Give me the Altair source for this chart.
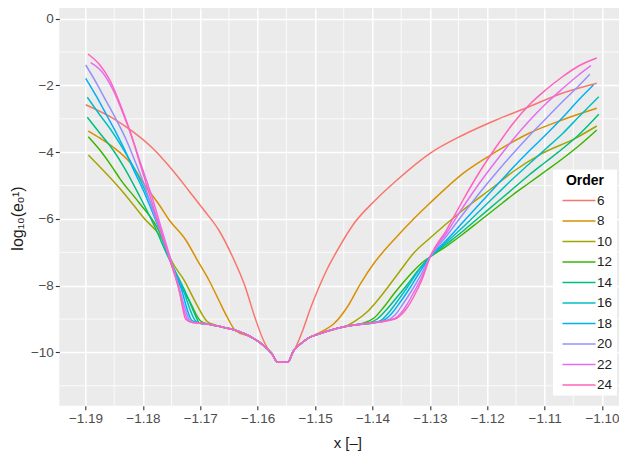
import altair as alt
import pandas as pd

orders = [6, 8, 10, 12, 14, 16, 18, 20, 22, 24]
colors = ["#F8766D", "#D89000", "#A3A500", "#39B600", "#00BF7D",
          "#00BFC4", "#00B0F6", "#9590FF", "#E76BF3", "#FF62BC"]

x_ticks = [-1.19, -1.18, -1.17, -1.16, -1.15, -1.14, -1.13, -1.12, -1.11, -1.10]
y_ticks = [-10, -8, -6, -4, -2, 0]
x_minor = [-1.185, -1.175, -1.165, -1.155, -1.145, -1.135, -1.125, -1.115, -1.105]
y_minor = [-11, -9, -7, -5, -3, -1]

# common floor shared by all orders (middle of the range)
floor_x = [-1.17167, -1.17024, -1.16851, -1.16678, -1.16390, -1.16104, -1.15873, -1.15759, -1.15655,
           -1.15470, -1.15384, -1.15241, -1.15125, -1.14896, -1.14608, -1.14319, -1.13974, -1.13688]
floor_y = [-9.089, -9.119, -9.158, -9.218, -9.338, -9.548, -9.829, -10.027, -10.288,
           -10.288, -9.979, -9.727, -9.577, -9.428, -9.278, -9.179, -9.110, -9.029]

left_x = {
    6: [-1.18997, -1.18520, -1.18175, -1.17830, -1.17512, -1.17196, -1.16938, -1.16679, -1.16420, -1.16218, -1.16045, -1.15902, -1.15798],
    8: [-1.18952, -1.18750, -1.18520, -1.18232, -1.17944, -1.17714, -1.17542, -1.17253, -1.17053, -1.16851, -1.16679, -1.16535],
    10: [-1.18952, -1.18405, -1.18002, -1.17599, -1.17507, -1.17283, -1.17076, -1.16881, -1.16765],
    12: [-1.18952, -1.18750, -1.18520, -1.18405, -1.18059, -1.17714, -1.17576, -1.17426, -1.17196, -1.16994],
    14: [-1.18969, -1.18750, -1.18520, -1.18318, -1.18059, -1.17800, -1.17568, -1.17283, -1.17041],
    16: [-1.18969, -1.18750, -1.18577, -1.18405, -1.18232, -1.17973, -1.17749, -1.17559, -1.17317, -1.17084],
    18: [-1.18997, -1.18807, -1.18634, -1.18461, -1.18289, -1.18175, -1.17973, -1.17766, -1.17550, -1.17352, -1.17145],
    20: [-1.18997, -1.18807, -1.18634, -1.18461, -1.18289, -1.18146, -1.17973, -1.17800, -1.17542, -1.17404, -1.17188],
    22: [-1.18910, -1.18693, -1.18520, -1.18348, -1.18175, -1.18030, -1.17852, -1.17680, -1.17533, -1.17404, -1.17222],
    24: [-1.18957, -1.18750, -1.18577, -1.18405, -1.18232, -1.18030, -1.17830, -1.17657, -1.17524, -1.17369, -1.17253],
}
left_y = {
    6: [-2.577, -2.985, -3.386, -3.884, -4.483, -5.163, -5.733, -6.332, -7.201, -8.031, -8.969, -9.629, -9.958],
    8: [-3.365, -3.575, -3.845, -4.294, -5.043, -5.583, -6.032, -6.632, -7.231, -7.830, -8.430, -8.930],
    10: [-4.085, -5.082, -5.934, -6.833, -7.231, -7.831, -8.520, -9.074, -9.164],
    12: [-3.536, -3.935, -4.483, -4.783, -5.532, -6.392, -6.991, -7.731, -8.430, -9.059],
    14: [-2.955, -3.434, -3.935, -4.483, -5.313, -6.212, -7.111, -8.100, -9.059],
    16: [-2.355, -2.886, -3.284, -3.734, -4.234, -5.103, -6.062, -7.111, -8.040, -9.053],
    18: [-1.786, -2.337, -2.886, -3.434, -4.034, -4.483, -5.223, -6.092, -7.111, -7.980, -9.044],
    20: [-1.387, -1.936, -2.487, -3.036, -3.635, -4.234, -4.984, -5.883, -7.111, -7.860, -9.035],
    22: [-1.319, -1.636, -2.137, -2.835, -3.635, -4.384, -5.283, -6.272, -7.111, -7.890, -9.023],
    24: [-1.058, -1.387, -1.837, -2.526, -3.335, -4.459, -5.571, -6.530, -7.261, -8.130, -9.008],
}
right_x = {
    6: [-1.15355, -1.15212, -1.15091, -1.14953, -1.14780, -1.14608, -1.14319, -1.13947, -1.13572, -1.12997, -1.12421, -1.11846, -1.11271, -1.10695, -1.10091],
    8: [-1.14896, -1.14665, -1.14435, -1.14205, -1.13974, -1.13629, -1.13284, -1.12997, -1.12421, -1.11846, -1.11271, -1.10695, -1.10091],
    10: [-1.14435, -1.14319, -1.14090, -1.13860, -1.13572, -1.13284, -1.12997, -1.12421, -1.11846, -1.11558, -1.11040, -1.10465, -1.10091],
    12: [-1.14147, -1.13974, -1.13801, -1.13629, -1.13456, -1.13284, -1.13140, -1.12997, -1.12709, -1.12421, -1.12134, -1.11846, -1.11558, -1.11271, -1.10983, -1.10695, -1.10408, -1.10091],
    14: [-1.14090, -1.13917, -1.13745, -1.13572, -1.13399, -1.13227, -1.12997, -1.12709, -1.12421, -1.12134, -1.11846, -1.11558, -1.11271, -1.10983, -1.10695, -1.10408, -1.10056],
    16: [-1.13831, -1.13693, -1.13537, -1.13365, -1.13192, -1.12997, -1.12709, -1.12421, -1.12134, -1.11846, -1.11558, -1.11271, -1.10983, -1.10695, -1.10408, -1.10056],
    18: [-1.13796, -1.13658, -1.13503, -1.13348, -1.13175, -1.12997, -1.12709, -1.12421, -1.12134, -1.11846, -1.11558, -1.11271, -1.10983, -1.10695, -1.10408, -1.10150],
    20: [-1.13745, -1.13607, -1.13469, -1.13331, -1.13158, -1.12997, -1.12709, -1.12421, -1.12134, -1.11846, -1.11558, -1.11271, -1.10983, -1.10695, -1.10408, -1.10212],
    22: [-1.13607, -1.13503, -1.13399, -1.13296, -1.13140, -1.12997, -1.12709, -1.12421, -1.12134, -1.11846, -1.11558, -1.11271, -1.10983, -1.10695, -1.10408, -1.10194],
    24: [-1.13572, -1.13486, -1.13399, -1.13284, -1.13140, -1.12997, -1.12709, -1.12421, -1.12134, -1.11846, -1.11558, -1.11271, -1.10983, -1.10695, -1.10408, -1.10091],
}
right_y = {
    6: [-9.898, -9.329, -8.729, -8.130, -7.471, -6.931, -6.131, -5.433, -4.834, -4.034, -3.485, -3.036, -2.637, -2.236, -1.936],
    8: [-9.389, -9.128, -8.631, -7.929, -7.330, -6.632, -6.002, -5.523, -4.633, -3.986, -3.434, -3.036, -2.685],
    10: [-9.194, -9.080, -8.780, -8.331, -7.681, -7.030, -6.572, -5.733, -4.984, -4.594, -4.034, -3.584, -3.215],
    12: [-9.119, -8.969, -8.640, -8.250, -7.890, -7.561, -7.321, -7.141, -6.812, -6.452, -6.062, -5.673, -5.283, -4.924, -4.564, -4.204, -3.815, -3.335],
    14: [-9.128, -8.999, -8.699, -8.340, -7.980, -7.591, -7.141, -6.752, -6.362, -5.942, -5.523, -5.103, -4.684, -4.294, -3.905, -3.485, -2.865],
    16: [-9.014, -8.759, -8.400, -7.980, -7.531, -7.141, -6.692, -6.242, -5.763, -5.283, -4.804, -4.354, -3.905, -3.455, -2.946, -2.337],
    18: [-9.029, -8.819, -8.460, -8.070, -7.591, -7.141, -6.632, -6.092, -5.553, -5.013, -4.474, -3.965, -3.485, -2.976, -2.436, -1.987],
    20: [-9.038, -8.879, -8.550, -8.190, -7.681, -7.141, -6.512, -5.853, -5.223, -4.624, -4.054, -3.515, -3.006, -2.496, -2.017, -1.666],
    22: [-8.984, -8.819, -8.565, -8.250, -7.740, -7.141, -6.422, -5.643, -4.924, -4.264, -3.635, -3.066, -2.556, -2.107, -1.687, -1.408],
    24: [-8.969, -8.849, -8.669, -8.340, -7.831, -7.141, -6.332, -5.433, -4.594, -3.845, -3.156, -2.586, -2.137, -1.747, -1.417, -1.178],
}

rows = []
for o in orders:
    lx, ly = left_x[o], left_y[o]
    rx, ry = right_x[o], right_y[o]
    fx = [(a, b) for a, b in zip(floor_x, floor_y) if lx[-1] < a < rx[0]]
    pts = list(zip(lx, ly)) + fx + list(zip(rx, ry))
    for i, (a, b) in enumerate(pts):
        rows.append({"x": a, "y": b, "Order": o, "idx": i})
df = pd.DataFrame(rows)

FONT = "Liberation Sans"
xscale = alt.Scale(domain=[-1.19457, -1.09704], nice=False, zero=False)
yscale = alt.Scale(domain=[-11.597, 0.3206], nice=False, zero=False)

xaxis = alt.Axis(values=x_ticks, format=".2f", title="x [–]", grid=True, gridColor="white",
                 gridWidth=1.5, domain=False, tickColor="#333333", tickSize=4, tickWidth=1.1,
                 labelColor="#4D4D4D", labelFontSize=13.5, labelPadding=2, labelFont=FONT,
                 titleFont=FONT, titleFontSize=15, titleFontWeight="normal", titleColor="#1A1A1A",
                 titlePadding=10, titleX=288)
yaxis = alt.Axis(values=y_ticks, format="d", title="log₁₀(eₒ¹)", grid=True, gridColor="white",
                 gridWidth=1.5, domain=False, tickColor="#333333", tickSize=4, tickWidth=1.1,
                 labelColor="#4D4D4D", labelFontSize=13.5, labelPadding=2, labelFont=FONT,
                 titleFont=FONT, titleFontSize=16, titleFontWeight="normal", titleColor="#1A1A1A",
                 titlePadding=5, titleY=210)

X = alt.X("x:Q", scale=xscale, axis=xaxis)
Y = alt.Y("y:Q", scale=yscale, axis=yaxis)

minor_v = alt.Chart(pd.DataFrame({"x": x_minor})).mark_rule(color="white", strokeWidth=0.8).encode(x=X)
minor_h = alt.Chart(pd.DataFrame({"y": y_minor})).mark_rule(color="white", strokeWidth=0.8).encode(y=Y)

lines = alt.Chart(df).mark_line(strokeWidth=1.5, interpolate="monotone", clip=True).encode(
    x=X, y=Y,
    color=alt.Color("Order:N", scale=alt.Scale(domain=orders, range=colors),
                    legend=alt.Legend(title="Order", orient="none", legendX=493.7, legendY=161.5,
                                      fillColor="white", padding=4,
                                      titleFont=FONT, titleFontSize=14, titleFontWeight="bold",
                                      titleColor="#000000", titleAnchor="middle", titlePadding=3,
                                      labelFont=FONT, labelFontSize=13.5, labelColor="#222222",
                                      symbolType="M-1.833,0H1.833", symbolSize=324,
                                      symbolStrokeWidth=1.6, symbolOffset=12, labelOffset=8,
                                      rowPadding=3.5)),
    order="idx:Q",
)

chart = alt.layer(minor_v, minor_h, lines).properties(
    width=559.7, height=397.7,
    padding={"left": 51.3, "top": 0, "right": 0, "bottom": 45.3},
    autosize=alt.AutoSizeParams(type="none"),
).configure(font=FONT).configure_view(fill="#EBEBEB", strokeWidth=0)

chart.save("out.html", embed_options={"renderer": "svg", "actions": False})
